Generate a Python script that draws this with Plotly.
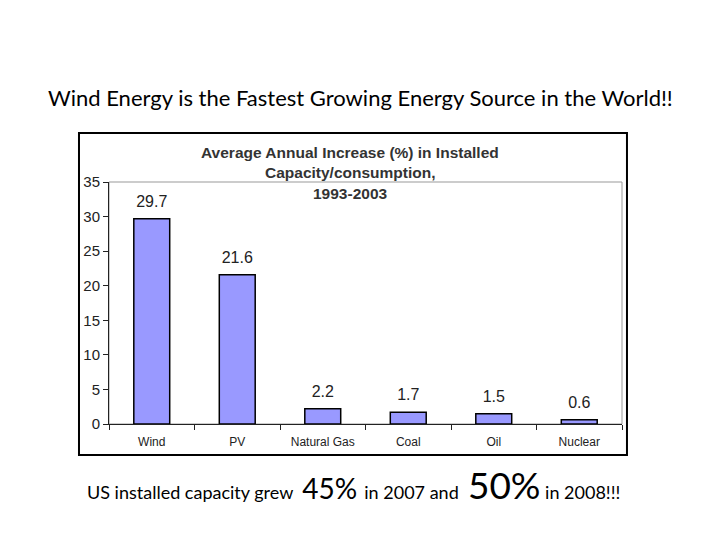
import plotly.graph_objects as go

# Average annual increase (%) in installed capacity/consumption, 1993-2003
sources = ["Wind", "PV", "Natural Gas", "Coal", "Oil", "Nuclear"]
increase = [29.7, 21.6, 2.2, 1.7, 1.5, 0.6]
y_ticks = [0, 5, 10, 15, 20, 25, 30, 35]
chart_title = ["Average Annual Increase (%) in Installed",
               "Capacity/consumption,", "1993-2003"]

fig = go.Figure()
fig.add_trace(go.Bar(
    x=sources, y=increase,
    width=0.42,
    marker=dict(color="#9999FF", line=dict(color="#000", width=1.5)),
))
# value labels sit a bit higher than plotly's default outside text
fig.add_trace(go.Scatter(
    x=sources, y=increase,
    mode="markers+text",
    marker=dict(size=11, opacity=0),
    text=["%.1f" % v for v in increase],
    textposition="top center",
    textfont=dict(family="Arial", size=16, color="#222"),
    cliponaxis=False, hoverinfo="skip",
))

fig.update_layout(
    width=720, height=540,
    margin=dict(l=101, r=106, t=174, b=124),
    paper_bgcolor="white", plot_bgcolor="white",
    showlegend=False,
    font=dict(family="Arial", color="#222"),
)
fig.update_xaxes(
    showline=True, linecolor="#222", linewidth=1,
    ticks="outside", tickson="boundaries", ticklen=5, tickcolor="#222",
    tickfont=dict(family="Arial", size=12, color="#222"),
    ticklabelstandoff=7,
    showgrid=False,
)
fig.update_yaxes(
    range=[0, 35], tickvals=y_ticks,
    showline=True, linecolor="#222", linewidth=1,
    ticks="outside", ticklen=5, tickcolor="#222",
    tickfont=dict(family="Arial", size=15, color="#222"),
    showgrid=False, zeroline=False,
)

# grey frame of plot area + outer chart box
fig.add_shape(type="rect", xref="paper", yref="paper", x0=0, x1=1, y0=0, y1=1,
              line=dict(color="#999", width=1), layer="below")
fig.add_shape(type="rect", xref="paper", yref="paper",
              x0=-0.0585, x1=1.0097, y0=-0.128, y1=1.2025,
              line=dict(color="#000", width=2), layer="below")

# chart title, one line each
for line, ty in zip(chart_title, [1.12, 1.041, 0.954]):
    fig.add_annotation(
        xref="paper", yref="paper", x=0.47, y=ty, yanchor="middle",
        text="<b>%s</b>" % line, showarrow=False,
        font=dict(family="Arial", size=15.5, color="#333"),
    )

# slide heading
fig.add_annotation(
    xref="paper", yref="paper", x=0.49, y=1.351, yanchor="middle",
    text="Wind Energy is the Fastest Growing Energy Source in the World!!",
    showarrow=False, font=dict(family="Lato", size=22, color="#000"),
)

# bottom line
fig.add_annotation(
    xref="paper", yref="paper", x=0.477, y=-0.252, yanchor="middle",
    text=("US installed capacity grew&nbsp; <span style='font-size:28px'>45%&nbsp;</span>"
          "in 2007 and&nbsp; <span style='font-size:37px'>50%</span> in 2008!!!"),
    showarrow=False, font=dict(family="Lato", size=18, color="#000"),
)

fig.write_html("out.html")
